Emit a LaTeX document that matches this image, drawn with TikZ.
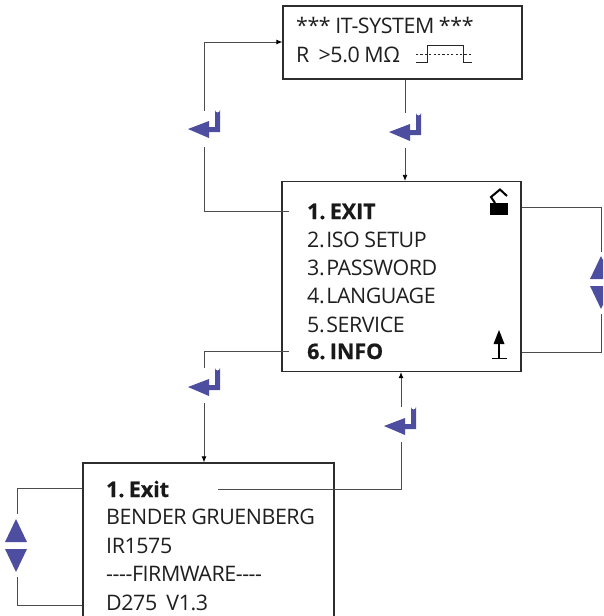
\documentclass[tikz,border=0pt]{standalone}
\usepackage{fontspec}
\setmainfont{Open Sans}
\newfontfamily\screenreg[WordSpace=0.9,LetterSpace=-2]{Open Sans}
\newfontfamily\screenheavy[WordSpace=0.45,FakeBold=0.7,BoldFont={Open Sans Bold}]{Open Sans Bold}
\newcommand{\numgap}{\kern-3pt\ }
\usetikzlibrary{arrows.meta}
\definecolor{keyblue}{RGB}{78,78,160}
\definecolor{inkgrey}{RGB}{45,45,45}
\tikzset{
  screen/.style={draw=inkgrey,line width=1.3pt,fill=white},
  screenline/.style={anchor=base west,inner sep=0pt,font=\screenreg\fontsize{21.4}{21.4}\selectfont,text=black!88},
  screenbold/.style={anchor=base west,inner sep=0pt,font=\screenheavy\fontsize{21.4}{21.4}\selectfont,text=black!90},
  wire/.style={draw=black!70,line width=0.8pt},
  wirearrow/.style={wire,-{Latex[length=6pt,width=5pt,black]}},
  enterkey/.pic={\fill[keyblue] (0,0)--(21,-8)--(21,-2)--(27,-2)--(27,-19) arc[start angle=180,end angle=0,x radius=2.5,y radius=2.5]--(32,3)--(21,3)--(21,9)--cycle;},
  updownkey/.pic={\fill[keyblue] (0,-26.5)--(-11,-3.5)--(11,-3.5)--cycle;\fill[keyblue] (0,26.5)--(-11,3.5)--(11,3.5)--cycle;}
}
\begin{document}
\begin{tikzpicture}[x=1pt,y=-1pt]
\path[use as bounding box] (0,0) rectangle (603,616);
\clip (0,0) rectangle (603,616);
\node[screen,minimum width=239pt,minimum height=73pt,inner sep=0pt] (top) at (402.5,42.5) {};
\node[screen,minimum width=239pt,minimum height=190pt,inner sep=0pt] (main) at (401.5,276.5) {};
\node[screen,minimum width=251pt,minimum height=180pt,inner sep=0pt] (info) at (208.5,553) {};
\node[screenline] (t1) at (296,33) {*** IT-SYSTEM ***};
\node[screenline] (t2) at (296,62) {R \ >5.0 MΩ};
\node[screenbold] (m1) at (307,219) {1. EXIT};
\node[screenline] (m2) at (307,247) {2.\numgap ISO SETUP};
\node[screenline] (m3) at (307,275) {3.\numgap PASSWORD};
\node[screenline] (m4) at (307,303) {4.\numgap LANGUAGE};
\node[screenline] (m5) at (307,332) {5.\numgap SERVICE};
\node[screenbold] (m6) at (307,359) {6. INFO};
\node[screenbold] (b1) at (106,497) {1. Exit};
\node[screenline] (b2) at (106,524.5) {BENDER GRUENBERG};
\node[screenline] (b3) at (106,553) {IR1575};
\node[screenline] (b4) at (106,581) {-{}-{}-{}-FIRMWARE-{}-{}-{}-};
\node[screenline] (b5) at (106,610) {D275 \ V1.3};
% level symbol
\draw[black!85,line width=1pt] (416,62)--(427,62)--(427,45)--(463,45)--(463,62)--(472,62);
\draw[black!85,line width=1pt,dash pattern=on 2.2pt off 2.2pt] (416,54)--(472,54);
% lock and up icons
\fill[black] (490,203) rectangle (508,215);
\draw[black,line width=2pt] (495,203)--(491,197)--(500,189.5)--(507,196);
\fill[black] (499,330)--(493.5,344)--(504.5,344)--cycle;
\draw[black,line width=1.5pt] (499,342)--(499,358) (492,358.5)--(507,358.5);
% keys
\pic at (188,129) {enterkey};
\pic at (389,132) {enterkey};
\pic at (188,387) {enterkey};
\pic at (384,426) {enterkey};
\pic at (601,282.5) {updownkey};
\pic at (16,545.5) {updownkey};
% connector ends
\coordinate (a1) at (204,111);
\coordinate (a2) at (204,147);
\coordinate (a3) at (204,211);
\coordinate (a4) at (204,42);
\coordinate (a5) at (289,211);
\coordinate (c1) at (405,113);
\coordinate (c2) at (405,148);
\coordinate (d1) at (601,252);
\coordinate (d2) at (601,314);
\coordinate (e0) at (289,351);
\coordinate (e1) at (204,368);
\coordinate (e2) at (204,403);
\coordinate (f1) at (218,489);
\coordinate (f2) at (401,489);
\coordinate (f3) at (401,442);
\coordinate (f4) at (401,407);
\coordinate (g1) at (17,514);
\coordinate (g2) at (17,577);
\draw[wire] (a5)--(a3)--(a2);
\draw[wirearrow] (a1)--(a4)--(top.west|-a4);
\draw[wire] (top.south-|c1)--(c1);
\draw[wirearrow] (c2)--(main.north-|c2);
\draw[wire] (main.east|-0,207)--(601,207)--(d1);
\draw[wire] (d2)--(601,352)--(main.east|-0,352);
\draw[wire] (e0)--(204,351)--(e1);
\draw[wirearrow] (e2)--(info.north-|e2);
\draw[wire] (f1)--(f2)--(f3);
\draw[wirearrow] (f4)--(main.south-|f4);
\draw[wire] (info.west|-0,488)--(17,488)--(g1);
\draw[wire] (g2)--(17,605)--(info.west|-0,605);
\end{tikzpicture}
\end{document}
